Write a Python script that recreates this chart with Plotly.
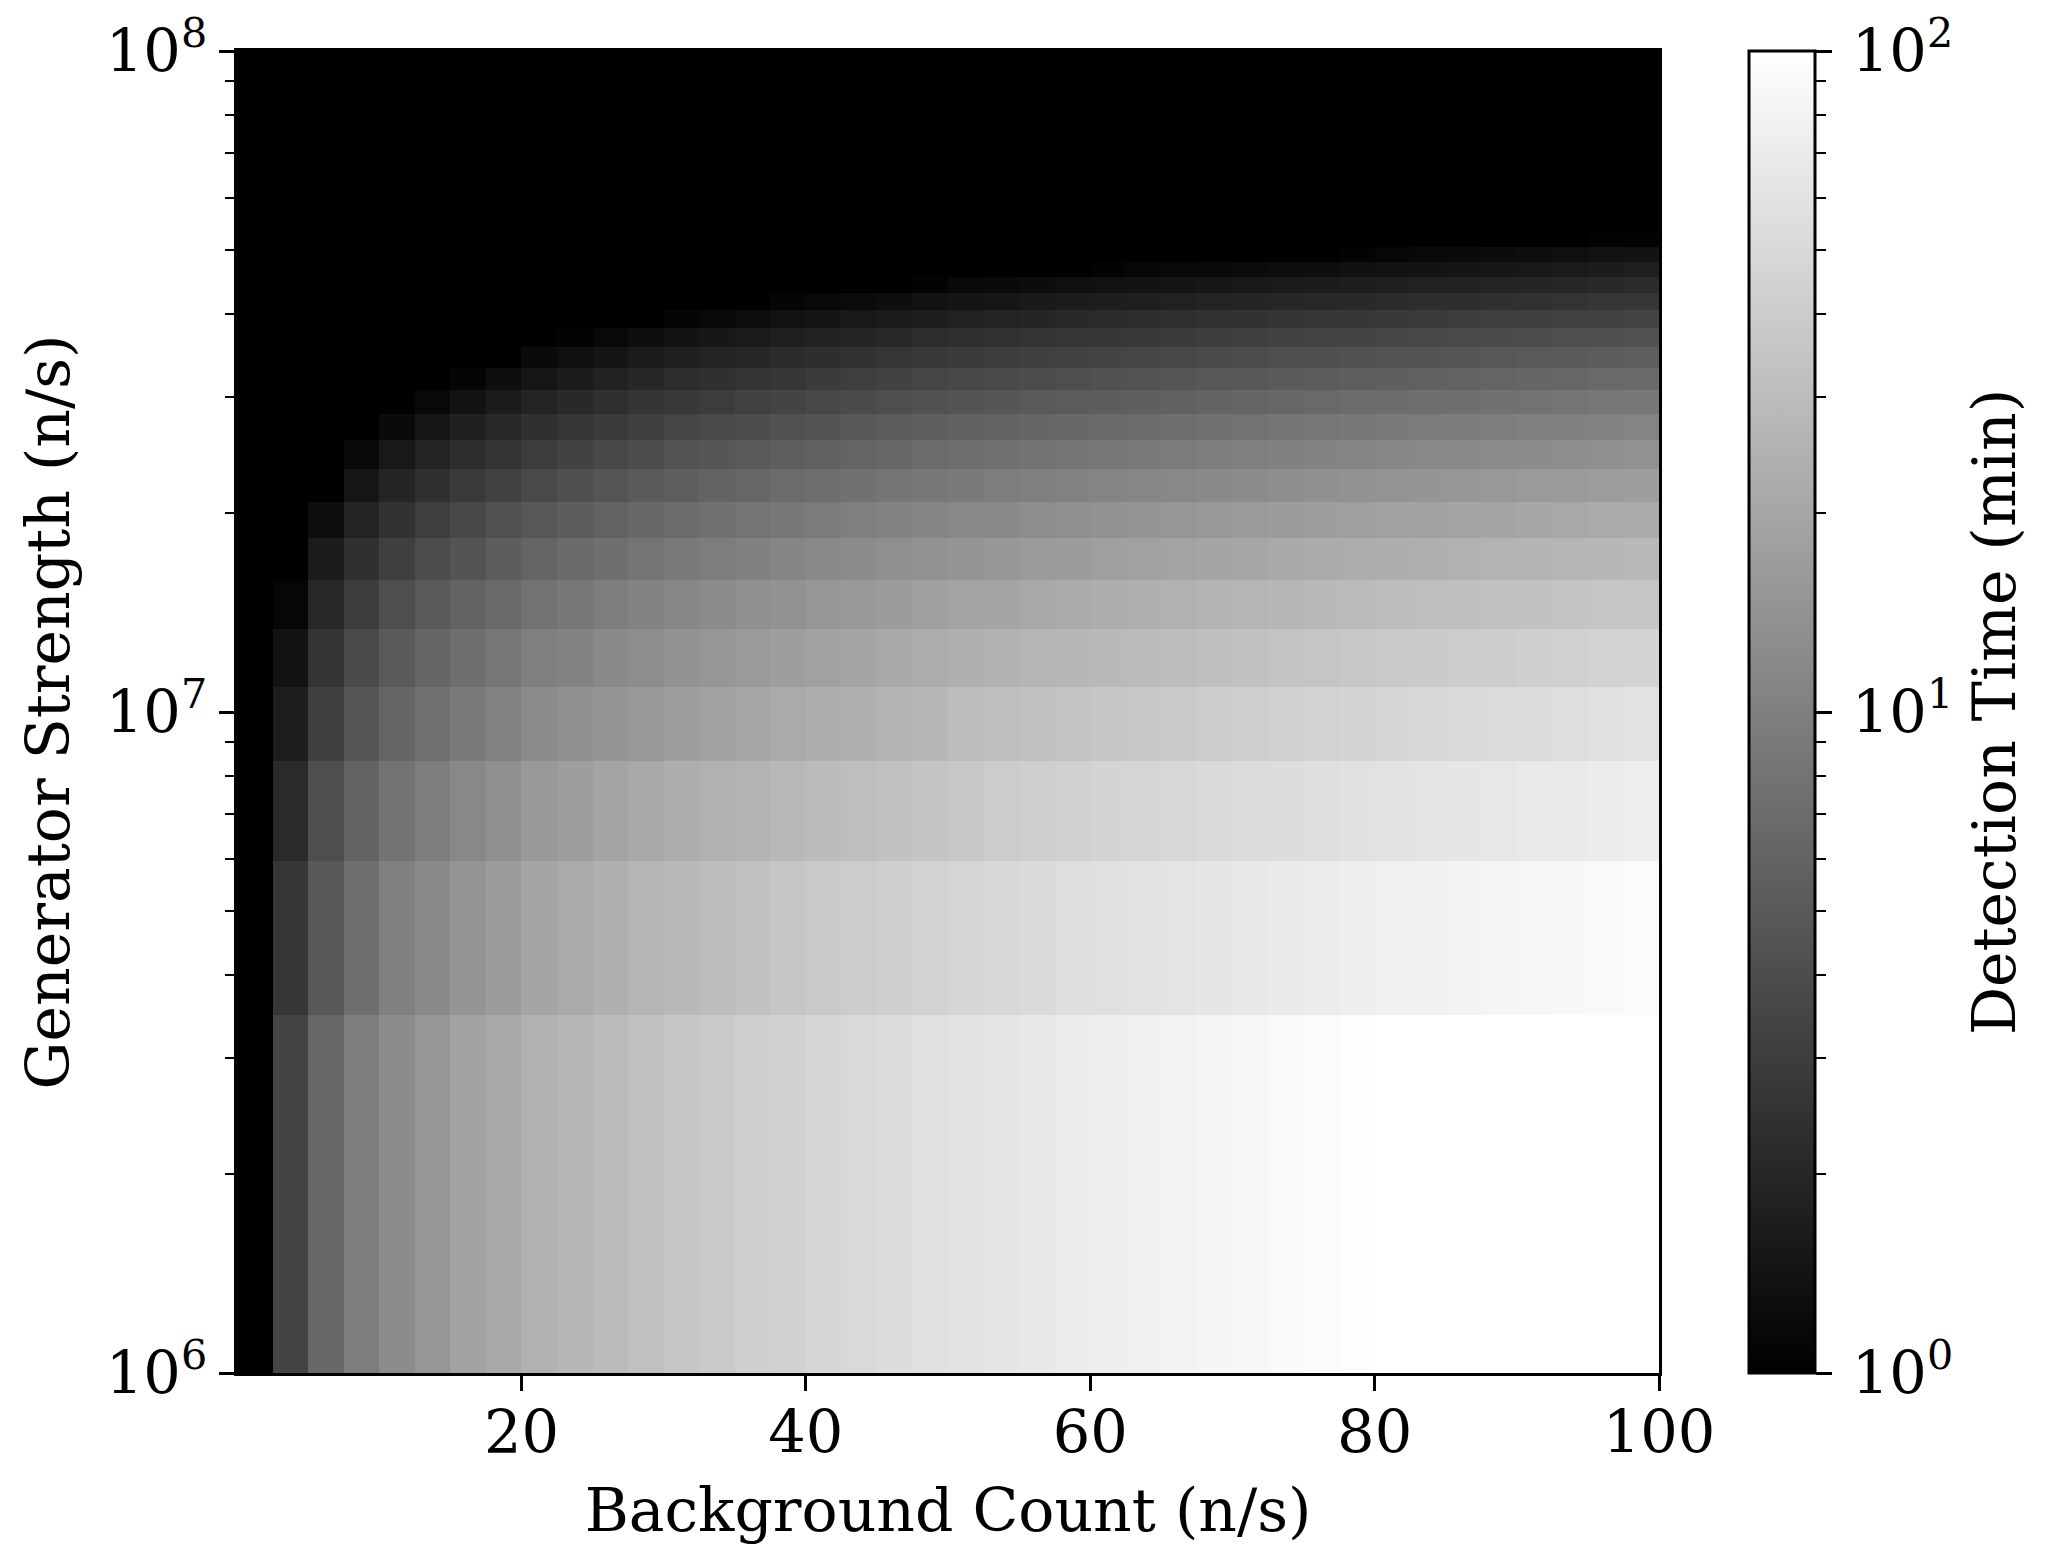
import numpy as np
import plotly.graph_objects as go

# Grid of the mesh: 40 x 40 cells, linear spacing in both physical quantities
background_edges = np.linspace(0, 100, 41)
generator_edges = np.linspace(1e6, 1e8, 41)

# Detection time read off the picture as the grey level of each cell (0 black = 1 min,
# 255 white = 100 min), one list per row from the bottom row up. Each list holds the
# right-hand end of the row; the cells left of it are black.
gray_r00 = [68,103,125,140,150,162,168,177,182,187,192,198,202,207,209,214,217,221,224,226,230,232,236,238,240,243,245,247,249,251,253,255,255,255,255,255,255,255,255]
gray_r01 = [54,88,110,128,138,148,156,165,170,176,181,185,189,193,198,201,204,207,210,213,216,218,222,224,226,228,230,232,234,236,238,240,241,243,245,246,248,249,251]
gray_r02 = [42,78,99,115,125,136,143,153,158,164,169,174,177,180,184,187,190,193,196,200,204,206,209,212,214,216,218,220,221,223,225,226,228,230,231,233,234,236,238]
gray_r03 = [29,63,85,101,112,122,130,139,144,148,152,158,162,166,170,174,176,180,183,188,190,192,195,198,200,202,204,206,208,210,212,214,215,217,219,220,222,224,226]
gray_r04 = [18,52,74,90,101,110,118,127,131,137,141,146,150,154,158,161,165,169,172,176,178,181,183,185,187,189,191,193,195,197,199,201,202,204,205,207,208,210,212]
gray_r05 = [6,40,61,78,89,98,106,114,120,125,130,135,139,143,146,150,153,156,160,163,165,168,170,173,175,177,179,181,183,185,186,188,190,191,193,194,196,197,198]
gray_r06 = [27,48,63,76,84,93,100,106,111,116,121,125,129,133,136,140,143,146,149,151,154,156,159,161,163,165,167,169,171,172,174,175,177,179,180,182,183,185]
gray_r07 = [14,35,50,62,72,80,87,93,98,103,108,112,116,120,123,127,130,133,136,138,141,143,146,148,150,152,154,156,158,159,161,162,164,165,167,168,170,171]
gray_r08 = [1,22,36,48,58,65,73,79,85,90,94,99,103,107,110,113,117,120,122,125,127,130,132,134,136,138,140,142,144,146,148,149,151,152,154,155,157,158]
gray_r09 = [8,24,35,45,52,60,66,72,77,82,86,90,94,97,100,104,107,110,112,115,117,119,121,123,125,127,129,131,132,134,136,137,139,140,142,143,145]
gray_r10 = [10,22,32,40,48,53,59,64,69,73,77,81,84,88,91,94,97,99,102,104,106,108,110,112,114,116,118,120,121,123,124,126,128,129,130,132]
gray_r11 = [8,19,27,35,41,47,52,56,60,65,68,72,75,78,81,84,86,89,91,93,95,97,99,101,103,105,107,108,110,111,113,114,116,118,119]
gray_r12 = [5,14,22,28,34,39,44,48,52,55,59,62,66,69,72,74,76,78,81,83,85,87,88,90,92,94,95,97,99,100,102,103,105,106]
gray_r13 = [1,10,15,21,26,31,35,39,43,46,50,53,56,59,61,64,66,68,70,72,74,76,78,79,81,83,84,86,87,89,90,92,94]
gray_r14 = [3,8,14,19,23,27,31,34,37,40,44,47,49,51,53,55,57,59,61,63,65,67,68,70,72,73,75,76,78,79,81]
gray_r15 = [5,9,13,17,20,24,27,30,33,35,37,41,43,45,47,49,50,52,54,55,57,58,60,62,63,65,66,67]
gray_r16 = [5,8,11,14,18,20,22,25,27,29,31,33,35,37,38,40,41,43,45,46,48,49,51,53,54]
gray_r17 = [3,8,10,12,15,17,19,21,23,25,26,28,30,31,33,34,36,37,39,41,43]
gray_r18 = [3,6,8,9,11,13,14,16,18,19,21,23,24,26,28,31]
gray_r19 = [3,6,8,10,12,14,15,17,19]
gray_r20 = [2,3]
gray_rows = [gray_r00, gray_r01, gray_r02, gray_r03, gray_r04, gray_r05, gray_r06,
             gray_r07, gray_r08, gray_r09, gray_r10, gray_r11, gray_r12, gray_r13,
             gray_r14, gray_r15, gray_r16, gray_r17, gray_r18, gray_r19, gray_r20]

x_ticks = [20, 40, 60, 80, 100]
y_ticks = [1e6, 1e7, 1e8]
y_tick_labels = ["10<sup>6</sup>", "10<sup>7</sup>", "10<sup>8</sup>"]
y_minor = [m * d for d in (1e6, 1e7) for m in range(2, 10)]
time_ticks = [1, 10, 100]
time_tick_labels = ["10<sup>0</sup>", "10<sup>1</sup>", "10<sup>2</sup>"]
time_minor = [m * d for d in (1, 10) for m in range(2, 10)]

n_cols = len(background_edges) - 1
n_rows = len(generator_edges) - 1
cells = np.zeros((n_rows, n_cols))
for i, row in enumerate(gray_rows):
    cells[i, n_cols - len(row):] = row
detection_time = 10 ** (cells / 127.5)   # minutes
z = np.log10(detection_time)

W, H = 2045, 1565
L, R, T, B = 236.5, 1659, 51, 1373.5
CB_L, CB_R = 1749, 1815
PW = CB_R - L   # paper spans from the heatmap's left edge to the colour bar's right edge
font = dict(family="DejaVu Serif", size=59, color="black")
title_font = dict(family="DejaVu Serif", size=60, color="black")

fig = go.Figure()
fig.add_trace(go.Heatmap(
    x=background_edges, y=generator_edges, z=z, zmin=0, zmax=2,
    colorscale=[[0, "black"], [1, "white"]],
    colorbar=dict(
        x=(CB_L - L) / PW, xanchor="left", xref="paper", xpad=0,
        y=0, yanchor="bottom", yref="paper", ypad=0,
        len=1, lenmode="fraction",
        thickness=CB_R - CB_L, thicknessmode="pixels",
        outlinecolor="black", outlinewidth=3,
        ticks="", showticklabels=False,
    ),
    hovertemplate="Background %{x}<br>Generator %{y}<extra></extra>",
))
# Empty trace that brings up the logarithmic axis of the colour scale
fig.add_trace(go.Scatter(x=[None], y=[None], yaxis="y2", showlegend=False, hoverinfo="skip"))

fig.update_layout(
    width=W, height=H, autosize=False,
    margin=dict(l=L, r=W - CB_R, t=T, b=H - B, pad=0),
    paper_bgcolor="white", plot_bgcolor="white",
    font=font,
    xaxis=dict(
        domain=[0, (R - L) / PW], range=[0, 100], tickvals=x_ticks, automargin="bottom",
        ticks="outside", ticklen=15, tickwidth=3, tickcolor="black",
        ticklabelstandoff=-9,
        showline=True, linecolor="black", linewidth=3, mirror=True,
        showgrid=False, zeroline=False, tickfont=font,
        title=dict(text="Background Count (n/s)", font=title_font, standoff=24),
    ),
    yaxis=dict(
        domain=[0, 1], type="log", range=[6, 8], automargin="left",
        tickvals=y_ticks, ticktext=y_tick_labels,
        ticks="outside", ticklen=15, tickwidth=3, tickcolor="black",
        minor=dict(tickvals=y_minor, ticks="outside", ticklen=9, tickwidth=2, tickcolor="black", showgrid=False),
        showline=True, linecolor="black", linewidth=3, mirror=True,
        showgrid=False, zeroline=False, tickfont=font,
        title=dict(text="Generator Strength (n/s)", font=title_font, standoff=17),
    ),
    yaxis2=dict(
        overlaying="y", side="right", anchor="free", position=1,
        type="log", range=[0, 2], automargin="right",
        tickvals=time_ticks, ticktext=time_tick_labels,
        ticks="outside", ticklen=16, tickwidth=3, tickcolor="black",
        ticklabelstandoff=8,
        minor=dict(tickvals=time_minor, ticks="outside", ticklen=10, tickwidth=2, tickcolor="black", showgrid=False),
        showline=False, showgrid=False, zeroline=False, tickfont=font,
        title=dict(text="Detection Time (min)", font=title_font, standoff=20),
    ),
)

fig.write_html("out.html", config={"displayModeBar": False},
               post_script="document.body.style.margin='0';document.body.style.overflow='hidden';")
